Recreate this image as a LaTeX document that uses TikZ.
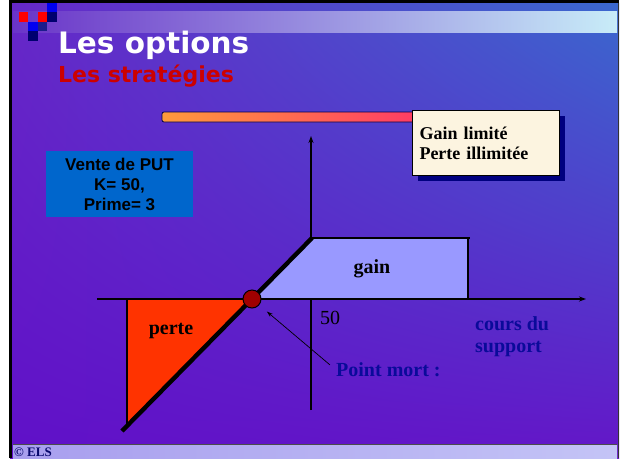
\documentclass[tikz,border=0pt]{standalone}
\usepackage{fontspec}
\setmainfont{Liberation Serif}
\setsansfont{Liberation Sans}
\newfontfamily\titlefont{DejaVu Sans}
\usetikzlibrary{positioning,arrows.meta,shadows,shadings}

\definecolor{slideTL}{HTML}{6628C8}
\definecolor{slideTR}{HTML}{3A68CE}
\definecolor{slideBL}{HTML}{6010C8}
\definecolor{slideBR}{HTML}{6416C8}
\definecolor{bandL}{HTML}{6A34C8}
\definecolor{bandR}{HTML}{C8ECF8}
\definecolor{footL}{HTML}{A89EEE}
\definecolor{footR}{HTML}{C4C4F6}
\definecolor{stratred}{HTML}{CC0000}
\definecolor{putblue}{HTML}{0066CC}
\definecolor{cream}{HTML}{FCF4E0}
\definecolor{shadownavy}{HTML}{000080}
\definecolor{gainfill}{HTML}{9999FF}
\definecolor{pertefill}{HTML}{FF3300}
\definecolor{mortred}{HTML}{A00000}
\definecolor{labelblue}{HTML}{0A0A9A}
\definecolor{barL}{HTML}{FF9A3C}
\definecolor{barR}{HTML}{FF3C64}
\definecolor{sqblue}{HTML}{0000F0}
\definecolor{sqnavy}{HTML}{00006E}
\definecolor{sqcheck}{HTML}{1C1C8C}

\begin{document}
\begin{tikzpicture}[x=1pt,y=-1pt,
  sq/.style={fill=#1, draw=none},
  graphlabel/.style={font=\bfseries\fontsize{20}{22}\selectfont},
  bluelabel/.style={graphlabel, text=labelblue, align=left}]
\useasboundingbox (0,0) rectangle (620,461);
\fill[white] (0,0) rectangle (620,461);

% Draw the slide background
\shade[upper left=slideTL, upper right=slideTR, lower left=slideBL, lower right=slideBR] (10,3) rectangle (619,458);
\shade[left color=bandL, right color=bandR] (13,11) rectangle (617,32);
\shade[left color=footL, right color=footR] (13,445) rectangle (617,458);
\draw[black!70, line width=1.2] (13,444.5) -- (617,444.5);
\draw[black, line width=3] (10,458) -- (10,1.5) -- (619,1.5);
\draw[black!80, line width=1] (618.5,3) -- (618.5,458);

% corner squares
\def\C{9.4}
\foreach \i/\j/\c in {0/1/red, 2/1/red, 3/0/sqblue, 3/1/sqnavy, 1/2/sqblue, 2/2/sqcheck, 1/3/sqnavy} {
  \fill[sq=\c] (19+\i*\C,3+\j*\C) rectangle ++(\C,\C);
}

% Titles
\node[anchor=base west, inner sep=0, text=white, font=\titlefont\bfseries\fontsize{29.5}{30}\selectfont] (title) at (58,53) {Les options};
\node[anchor=base west, inner sep=0, text=stratred, font=\titlefont\bfseries\fontsize{22}{24}\selectfont] (subtitle) at (58,82) {Les stratégies};

% Draw the bar and the comment box
\draw[draw=blue!30!black, line width=0.8, rounded corners=2, left color=barL, right color=barR] (162,112) rectangle (416,122);
\node[anchor=north west, draw=black, line width=1, fill=cream, minimum width=147pt, minimum height=65pt, text width=133pt, align=left,
  inner xsep=7pt, font=\bfseries\fontsize{18}{20}\selectfont,
  drop shadow={shadow xshift=5pt, shadow yshift=-5pt, fill=shadownavy, opacity=1}] (comment) at (412,110) {Gain limité\\Perte illimitée};

\node[fill=putblue, minimum width=147pt, minimum height=66pt, inner sep=0, align=center,
  font=\sffamily\bfseries\fontsize{17}{20}\selectfont] (put) at (119.5,184) {Vente de PUT\\K= 50,\\Prime= 3};

% Axes
\coordinate (xstart) at (97,299);
\coordinate (xend) at (586,299);
\coordinate (ystart) at (311,410);
\coordinate (yend) at (311,136);

% Payoff points
\coordinate (low) at (122,431);
\coordinate (kink) at (312,238);
\coordinate (capR) at (468,238);
\coordinate (capB) at (468,299);
\coordinate (perteT) at (127,299);
\coordinate (perteB) at (127,426);
\coordinate (be) at (252,299);

\draw[line width=1.2, -{Stealth[length=7pt,width=5pt]}] (ystart) -- (yend);

% Draw the gain and loss areas
\fill[gainfill] (be) -- (kink) -- (capR) -- (capB) -- cycle;
\fill[pertefill] (perteT) -- (be) -- (perteB) -- cycle;
\draw[line width=1.2] (perteT) -- (perteB);
\draw[line width=1.2] (capR) -- (capB);

\draw[line width=1.2, -{Stealth[length=7pt,width=5pt]}] (xstart) -- (xend);

\draw[line width=2.6] (kink) -- ([xshift=2pt]capR);
\draw[line width=4.4] (low) -- (kink);

\node[circle, fill=mortred, draw=black, line width=1, minimum size=18pt, inner sep=0] (pm) at (be) {};

% Labels
\node[graphlabel] (gain) at (372,269) {gain};
\node[graphlabel] (perte) at (171,331) {perte};
\node[font=\fontsize{20}{22}\selectfont] (strike) at (330,318) {50};
\node[bluelabel, anchor=north west, inner sep=0] (cours) at (475,316) {cours du\\support};
\node[bluelabel, anchor=west, inner sep=0] (mort) at (336,370) {Point mort :};

\draw[-{Stealth[length=6pt,width=4pt]}, line width=0.7, shorten <=8pt, shorten >=10pt] (mort.west) -- (pm);

% Footer
\node[anchor=west, inner sep=0, text=labelblue!70!black, font=\bfseries\fontsize{13}{14}\selectfont] (els) at (14,452) {© ELS};
\end{tikzpicture}
\end{document}
